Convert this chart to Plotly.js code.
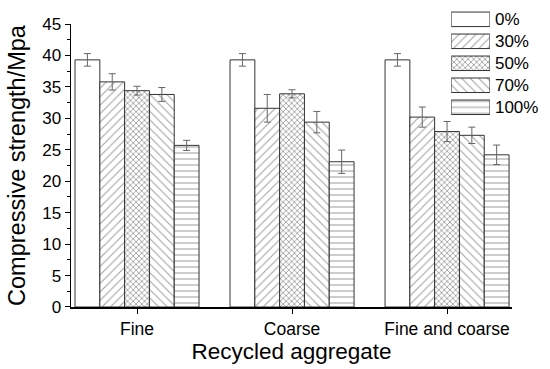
<!DOCTYPE html>
<html>
<head>
<meta charset="utf-8">
<script src="https://cdn.plot.ly/plotly-3.0.1.min.js"></script>
<style>html,body{margin:0;padding:0;background:#fff;}#chart{width:550px;height:369px;}</style>
</head>
<body>
<div id="chart"></div>
<script>
const categories = ["Fine", "Coarse", "Fine and coarse"];
const seriesNames = ["0%", "30%", "50%", "70%", "100%"];
const strength0 = [39.3, 39.3, 39.3];
const strength30 = [35.8, 31.6, 30.2];
const strength50 = [34.4, 33.9, 27.9];
const strength70 = [33.8, 29.4, 27.3];
const strength100 = [25.7, 23.1, 24.2];
const err0 = [1.0, 1.0, 1.0];
const err30 = [1.3, 2.2, 1.6];
const err50 = [0.7, 0.65, 1.6];
const err70 = [1.1, 1.7, 1.3];
const err100 = [0.8, 1.85, 1.55];
const yTickVals = [0, 5, 10, 15, 20, 25, 30, 35, 40, 45];

const values = [strength0, strength30, strength50, strength70, strength100];
const errors = [err0, err30, err50, err70, err100];
const shapes = ["", "/", "x", "\\", "-"];
const sizes = [6, 6, 4, 6, 6];
const solids = [0.2, 0.18, 0.4, 0.18, 0.18];
const font = "Arial, 'Liberation Sans', sans-serif";

const traces = values.map((v, i) => ({
  type: "bar",
  x: categories,
  y: v,
  name: seriesNames[i],
  xaxis: "x", yaxis: "y",
  marker: {
    color: "#ffffff",
    line: {color: "#333333", width: 1},
    pattern: {shape: shapes[i], fgcolor: "#444444", bgcolor: "#ffffff", size: sizes[i], solidity: solids[i], fillmode: "overlay"}
  },
  error_y: {type: "data", array: errors[i], visible: true, color: "#666666", thickness: 1, width: 3.5},
  showlegend: false,
  hoverinfo: "skip"
}));

// legend drawn as a helper bar trace on its own small axes
traces.push({
  type: "bar",
  orientation: "h",
  x: seriesNames.map(() => 1),
  y: seriesNames,
  xaxis: "x2", yaxis: "y2",
  width: 0.66,
  marker: {
    color: "#ffffff",
    line: {color: "#333333", width: 1},
    pattern: {shape: shapes, fgcolor: "#444444", bgcolor: "#ffffff", size: sizes, solidity: solids, fillmode: "overlay"}
  },
  showlegend: false,
  hoverinfo: "skip"
});

const layout = {
  width: 550, height: 369,
  margin: {l: 71, r: 38, t: 5, b: 62, pad: 0},
  paper_bgcolor: "#ffffff", plot_bgcolor: "#ffffff",
  font: {family: font, color: "#000000", size: 17},
  barmode: "group", bargap: 0.2, bargroupgap: 0,
  showlegend: false,
  xaxis: {
    type: "category",
    range: [-0.426, 2.419],
    showline: true, linecolor: "#000000", linewidth: 1.5,
    ticks: "outside", ticklen: 5, tickwidth: 1, tickcolor: "#000000",
    tickfont: {family: font, size: 17.5},
    showgrid: false, zeroline: false,
    title: {text: "Recycled aggregate", font: {family: font, size: 22.5}, standoff: 5},
    anchor: "y"
  },
  yaxis: {
    domain: [0, 0.937],
    range: [0, 45],
    tickvals: yTickVals,
    showline: true, linecolor: "#000000", linewidth: 1.5,
    ticks: "outside", ticklen: 5, tickwidth: 1, tickcolor: "#000000",
    minor: {dtick: 2.5, ticklen: 3, tickwidth: 1, tickcolor: "#000000", ticks: "outside", showgrid: false},
    tickfont: {family: font, size: 17},
    showgrid: false, zeroline: false,
    title: {text: "Compressive strength/Mpa", font: {family: font, size: 23.5}, standoff: 10},
    anchor: "x"
  },
  xaxis2: {
    domain: [0.862, 0.950], range: [0, 1], anchor: "y2",
    visible: false, fixedrange: true
  },
  yaxis2: {
    domain: [0.625, 0.989], anchor: "x2", side: "right",
    type: "category", categoryarray: seriesNames, autorange: "reversed",
    tickmode: "array", tickvals: seriesNames, ticktext: seriesNames,
    showline: false, ticks: "", showgrid: false, zeroline: false,
    tickfont: {family: font, size: 17}, ticklabelstandoff: 4, fixedrange: true
  }
};

Plotly.newPlot("chart", traces, layout, {displayModeBar: false, staticPlot: true});
</script>
</body>
</html>
